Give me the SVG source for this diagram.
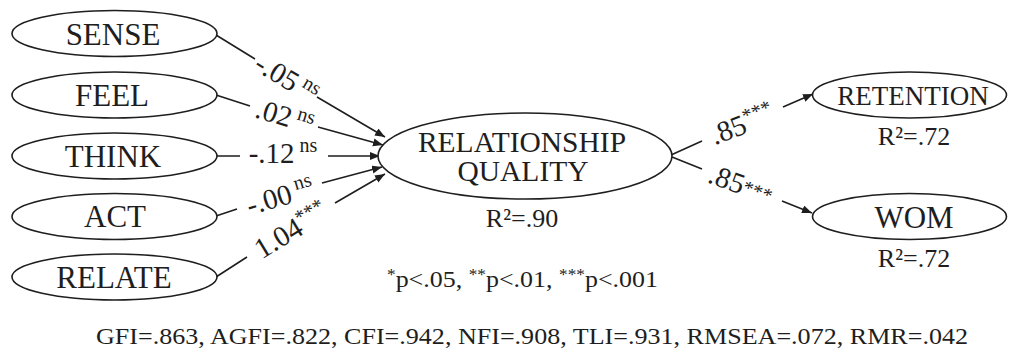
<svg xmlns="http://www.w3.org/2000/svg" width="1009" height="349" viewBox="0 0 1009 349">
<style>
  .node ellipse { fill: #ffffff; stroke: #1e1e1e; stroke-width: 1.6; }
  text { font-family: "Liberation Serif", "Times New Roman", serif; fill: #1e1e1e; }
  .nl { font-size: 31px; text-anchor: middle; }
  .cl { font-size: 29.5px; text-anchor: middle; }
  .r2 { font-size: 26px; text-anchor: middle; }
  .conn path { fill: none; stroke: #1e1e1e; stroke-width: 1.6; marker-end: url(#arr); }
  .lbl { font-size: 29px; text-anchor: middle; }
  .sup { font-size: 20px; }
</style>
<defs>
  <marker id="arr" markerUnits="userSpaceOnUse" markerWidth="11" markerHeight="9" refX="10" refY="4" orient="auto">
    <path d="M0,0 L10,4 L0,8 z" fill="#1e1e1e"/>
  </marker>
</defs>
<rect width="1009" height="349" fill="#ffffff"/>

<g id="connectors" class="conn">
  <path d="M216,35 L255,59 M317,97 L385,137"/>
  <path d="M216,95 L250,106 M318,127 L383,145"/>
  <path d="M217,156 L240,156 M328,156 L380,156"/>
  <path d="M216,216 L237,209 M322,183 L382,167"/>
  <path d="M216,277 L247,257 M335,203 L385,174"/>
  <path d="M671,155 L702,141 M783,107 L813,94"/>
  <path d="M672,157 L702,169 M782,201 L812,213"/>
</g>

<g id="conn-labels">
  <g transform="translate(287,78) rotate(31)"><text class="lbl" x="0" y="10">-.05<tspan class="sup" dy="-10"> ns</tspan></text></g>
  <g transform="translate(285,116) rotate(16.7)"><text class="lbl" x="0" y="10">.02<tspan class="sup" dy="-10"> ns</tspan></text></g>
  <text class="lbl" x="283" y="163">-.12<tspan class="sup" dy="-11"> ns</tspan></text>
  <g transform="translate(280,196) rotate(-16.4)"><text class="lbl" x="0" y="10">-.00<tspan class="sup" dy="-11"> ns</tspan></text></g>
  <g transform="translate(291,230) rotate(-31.4)"><text class="lbl" x="0" y="10">1.04<tspan class="sup" dy="-10">***</tspan></text></g>
  <g transform="translate(742,124) rotate(-21)"><text class="lbl" x="0" y="10">.85<tspan class="sup" dy="-10">***</tspan></text></g>
  <g transform="translate(741,184) rotate(20)"><text class="lbl" x="0" y="10">.85<tspan class="sup" dy="-2">***</tspan></text></g>
</g>

<g id="sense" class="node"><ellipse cx="114.5" cy="33.5" rx="102.5" ry="23"/><text class="nl" x="113" y="45">SENSE</text></g>
<g id="feel" class="node"><ellipse cx="114.5" cy="95" rx="102.5" ry="23"/><text class="nl" x="112" y="106">FEEL</text></g>
<g id="think" class="node"><ellipse cx="114.5" cy="156" rx="102.5" ry="23"/><text class="nl" x="113" y="167">THINK</text></g>
<g id="act" class="node"><ellipse cx="114.5" cy="216.5" rx="102.5" ry="23"/><text class="nl" x="115" y="227">ACT</text></g>
<g id="relate" class="node"><ellipse cx="114.5" cy="277" rx="102.5" ry="23"/><text class="nl" x="114" y="288">RELATE</text></g>

<g id="relationship-quality" class="node">
  <ellipse cx="525" cy="156" rx="147" ry="43"/>
  <text class="cl" x="522" y="152">RELATIONSHIP</text>
  <text class="cl" x="523" y="181">QUALITY</text>
  <text class="r2" x="522" y="227">R²=.90</text>
</g>

<g id="retention" class="node">
  <ellipse cx="909.5" cy="95" rx="97" ry="23"/>
  <text x="913" y="105" font-size="27" text-anchor="middle">RETENTION</text>
  <text class="r2" x="914" y="145">R²=.72</text>
</g>

<g id="wom" class="node">
  <ellipse cx="909.5" cy="216.5" rx="97" ry="23"/>
  <text x="914" y="228" font-size="31" text-anchor="middle">WOM</text>
  <text class="r2" x="914" y="267">R²=.72</text>
</g>

<text x="387" y="287" font-size="24" textLength="271" lengthAdjust="spacingAndGlyphs"><tspan font-size="16" dy="-7">*</tspan><tspan dy="7">p&lt;.05, </tspan><tspan font-size="16" dy="-7">**</tspan><tspan dy="7">p&lt;.01, </tspan><tspan font-size="16" dy="-7">***</tspan><tspan dy="7">p&lt;.001</tspan></text>

<text x="96" y="344" font-size="23" textLength="872" lengthAdjust="spacingAndGlyphs">GFI=.863, AGFI=.822, CFI=.942, NFI=.908, TLI=.931, RMSEA=.072, RMR=.042</text>
</svg>
